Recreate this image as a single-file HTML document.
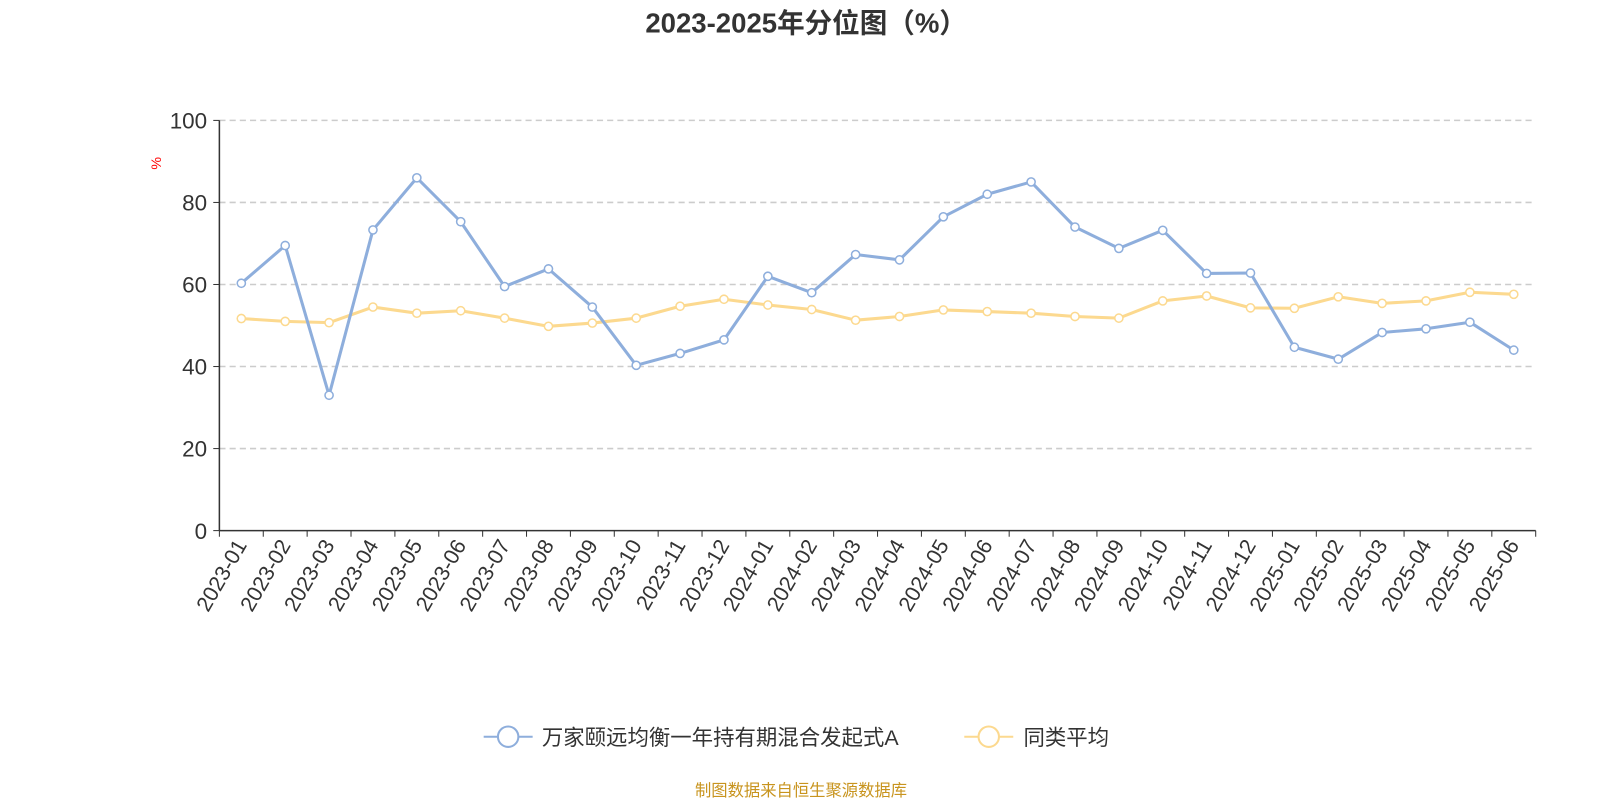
<!DOCTYPE html>
<html><head><meta charset="utf-8"><style>
body{margin:0;background:#fff;font-family:"Liberation Sans","Noto Sans CJK SC",sans-serif;}
svg text{font-family:"Liberation Sans","Noto Sans CJK SC",sans-serif;}
</style></head><body>
<svg id="chart" width="1600" height="800" viewBox="0 0 1600 800" xmlns="http://www.w3.org/2000/svg">
<g transform="scale(1.0204)">
<text x="790" y="32" text-anchor="middle" font-size="27" font-weight="bold" fill="#333">2023-2025年分位图（%）</text>
<text x="158" y="160" font-size="14" fill="red" transform="rotate(-90 158 160)" text-anchor="middle">%</text>
<g id="grid"></g><g id="axes"></g><g id="series"></g>
<g>
<g>
<line x1="474" y1="722" x2="522" y2="722" stroke="#8eaedc" stroke-width="2"/>
<circle cx="498" cy="722" r="10" fill="#fff" stroke="#8eaedc" stroke-width="2"/>
<text x="531" y="730" font-size="21" fill="#333">万家颐远均衡一年持有期混合发起式A</text></g>
<g>
<line x1="945" y1="722" x2="993" y2="722" stroke="#fcd98f" stroke-width="2"/>
<circle cx="969" cy="722" r="10" fill="#fff" stroke="#fcd98f" stroke-width="2"/>
<text x="1003" y="730" font-size="21" fill="#333">同类平均</text></g>
</g>
<text x="785" y="780" text-anchor="middle" font-size="16" fill="#c8941e">制图数据来自恒生聚源数据库</text>
</g>
</svg>
<script>
const categories=["2023-01","2023-02","2023-03","2023-04","2023-05","2023-06","2023-07","2023-08","2023-09","2023-10","2023-11","2023-12","2024-01","2024-02","2024-03","2024-04","2024-05","2024-06","2024-07","2024-08","2024-09","2024-10","2024-11","2024-12","2025-01","2025-02","2025-03","2025-04","2025-05","2025-06"];
const fundValues=[60.3,69.5,33,73.3,86,75.3,59.5,63.8,54.5,40.3,43.2,46.5,62,58,67.3,66,76.5,82,85,74,68.8,73.2,62.7,62.8,44.7,41.8,48.3,49.2,50.8,44];
const peerValues=[51.7,51,50.7,54.5,53,53.6,51.8,49.8,50.6,51.8,54.7,56.4,55,53.9,51.3,52.2,53.8,53.4,53,52.2,51.8,56,57.2,54.3,54.2,57,55.4,56,58.1,57.6];
const yTicks=[0,20,40,60,80,100];
const NS="http://www.w3.org/2000/svg";
const L=215,R=1505,T=118,B=520;
const bw=(R-L)/categories.length;
const x=i=>L+bw*(i+0.5);
const y=v=>B-(v/100)*(B-T);
function mk(tag,attrs,parent){const e=document.createElementNS(NS,tag);for(const k in attrs)e.setAttribute(k,attrs[k]);parent.appendChild(e);return e;}
const grid=document.getElementById('grid'),axes=document.getElementById('axes'),series=document.getElementById('series');
yTicks.forEach(v=>{
 if(v>0){const g=mk('line',{x1:L,x2:R,y1:y(v),y2:y(v),stroke:'#ccc','stroke-dasharray':'6,4','stroke-width':1.5},grid);
 
 }
 const tk=mk('line',{x1:L-6,x2:L,y1:y(v),y2:y(v),stroke:'#333'},axes);
 
 
 const t=mk('text',{x:L-12,y:y(v)+8,'text-anchor':'end','font-size':22,fill:'#333'},axes);
 t.textContent=v;
 
 
});
const ya=mk('line',{x1:L,x2:L,y1:T,y2:B,stroke:'#333','stroke-width':1.5},axes);


const xa=mk('line',{x1:L,x2:R,y1:B,y2:B,stroke:'#333','stroke-width':1.5},axes);


for(let i=0;i<=categories.length;i++){
 const tk=mk('line',{x1:L+bw*i,x2:L+bw*i,y1:B,y2:B+6,stroke:'#333'},axes);
 
 
}
categories.forEach((c,i)=>{
 const px=x(i)+6,py=B+14;
 const t=mk('text',{x:px,y:py,'text-anchor':'end','font-size':21,fill:'#333',transform:`rotate(-60 ${px} ${py})`},axes);
 t.textContent=c;
 
 
});
function drawSeries(vals,color,name){
 const p=mk('polyline',{points:vals.map((v,i)=>x(i)+','+y(v)).join(' '),fill:'none',stroke:color,'stroke-width':3,'stroke-linejoin':'round'},series);
 
 
 vals.forEach((v,i)=>{
  const c=mk('circle',{cx:x(i),cy:y(v),r:4,fill:'#fff',stroke:color,'stroke-width':1.5},series);
  
  
 });
}
drawSeries(peerValues,'#fcd98f','peer-average');
drawSeries(fundValues,'#8eaedc','fund');
</script>
</body></html>
